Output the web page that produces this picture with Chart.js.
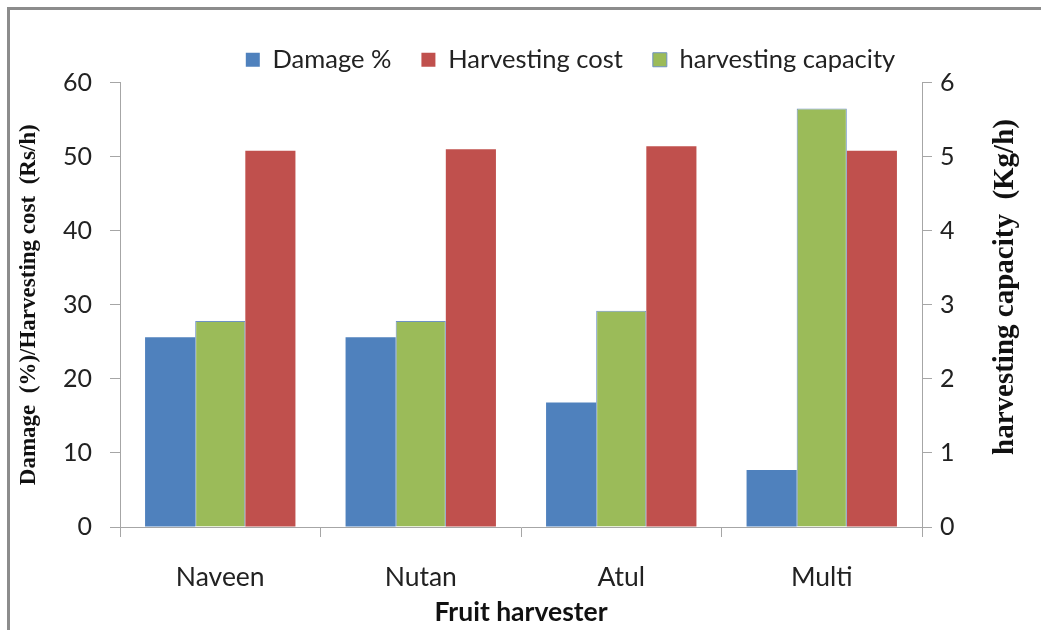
<!DOCTYPE html>
<html>
<head>
<meta charset="utf-8">
<title>Fruit harvester</title>
<script src="https://cdn.jsdelivr.net/npm/chart.js@4.4.1/dist/chart.umd.min.js"></script>
<style>
  body { margin: 0; background: #fff; }
  #frame { position: absolute; left: 7px; top: 7px; width: 1100px; height: 700px; border: 3px solid #8c8c8c; }
  #wrap { position: absolute; left: 0; top: 0; width: 1041px; height: 630px; }
</style>
</head>
<body>
<div id="frame"></div>
<div id="wrap"><canvas id="chart"></canvas></div>
<script>
// values
const harvesters = ['Naveen', 'Nutan', 'Atul', 'Multi'];
const damagePct = [25.6, 25.6, 16.8, 7.7];
const harvestingCost = [50.8, 51.0, 51.4, 50.8];
const harvestingCapacity = [2.78, 2.78, 2.92, 5.65];
const legendOrder = ['Damage %', 'Harvesting cost', 'harvesting capacity'];

const axisGrey = '#a6a6a6';
const tickFont = { family: 'Lato', size: 25 };

// legend sits right of centre in the original
const shiftLegend = {
    id: 'shiftLegend',
    afterUpdate(chart) {
        const lg = chart.legend;
        lg.left += 50;
        lg.right += 50;
        lg.adjustHitBoxes();
    }
};

// right axis title reads bottom-to-top, Chart.js would rotate it the other way
const rightTitle = {
    id: 'rightTitle',
    afterDraw(chart) {
        const ctx = chart.ctx;
        ctx.save();
        ctx.translate(1006, 287);
        ctx.rotate(-Math.PI / 2);
        ctx.font = 'bold 29px "Liberation Serif"';
        ctx.fillStyle = '#111';
        ctx.textAlign = 'center';
        ctx.textBaseline = 'middle';
        ctx.fillText('harvesting capacity  (Kg/h)', 0, 0);
        ctx.restore();
    }
};

new Chart(document.getElementById('chart'), {
    type: 'bar',
    data: {
        labels: harvesters,
        datasets: [
            { label: 'Damage %', data: damagePct, backgroundColor: '#4F81BD', borderWidth: 0, yAxisID: 'y' },
            { label: 'harvesting capacity', data: harvestingCapacity, backgroundColor: '#9BBB59', borderColor: '#6f92c4', borderWidth: 1, yAxisID: 'y1' },
            { label: 'Harvesting cost', data: harvestingCost, backgroundColor: '#C0504D', borderWidth: 0, yAxisID: 'y' }
        ]
    },
    options: {
        responsive: true,
        maintainAspectRatio: false,
        animation: false,
        categoryPercentage: 0.75,
        barPercentage: 1.0,
        layout: { padding: { top: 17, left: 0, right: 0, bottom: 0 } },
        plugins: {
            tooltip: { enabled: false },
            legend: {
                position: 'top',
                labels: {
                    boxWidth: 14,
                    boxHeight: 14,
                    padding: 30,
                    color: '#222',
                    font: { family: 'Lato', size: 25.5 },
                    sort: (a, b) => legendOrder.indexOf(a.text) - legendOrder.indexOf(b.text)
                }
            }
        },
        scales: {
            x: {
                grid: { offset: true, drawOnChartArea: false, tickLength: 10, color: axisGrey },
                border: { color: axisGrey },
                ticks: { font: { family: 'Lato', size: 26.5 }, color: '#222', padding: 25 },
                title: {
                    display: true,
                    text: 'Fruit harvester',
                    color: '#111',
                    font: { family: 'Lato', size: 26.5, weight: 'bold' },
                    padding: { top: 0, bottom: 2 }
                },
                afterFit: s => { s.height = 103; }
            },
            y: {
                position: 'left',
                min: 0,
                max: 60,
                ticks: { stepSize: 10, font: tickFont, color: '#222', padding: 18 },
                grid: { drawOnChartArea: false, tickLength: 10, color: axisGrey },
                border: { color: axisGrey },
                title: {
                    display: true,
                    text: 'Damage  (%)/Harvesting cost  (Rs/h)',
                    color: '#111',
                    font: { family: 'Liberation Serif', size: 23, weight: 'bold' },
                    padding: { top: 15, bottom: 0 }
                },
                afterFit: s => { s.width = 120; }
            },
            y1: {
                position: 'right',
                min: 0,
                max: 6,
                ticks: { stepSize: 1, font: tickFont, color: '#222', padding: 8 },
                grid: { drawOnChartArea: false, tickLength: 10, color: axisGrey },
                border: { color: axisGrey },
                afterFit: s => { s.width = 119; }
            }
        }
    },
    plugins: [shiftLegend, rightTitle]
});
</script>
</body>
</html>
